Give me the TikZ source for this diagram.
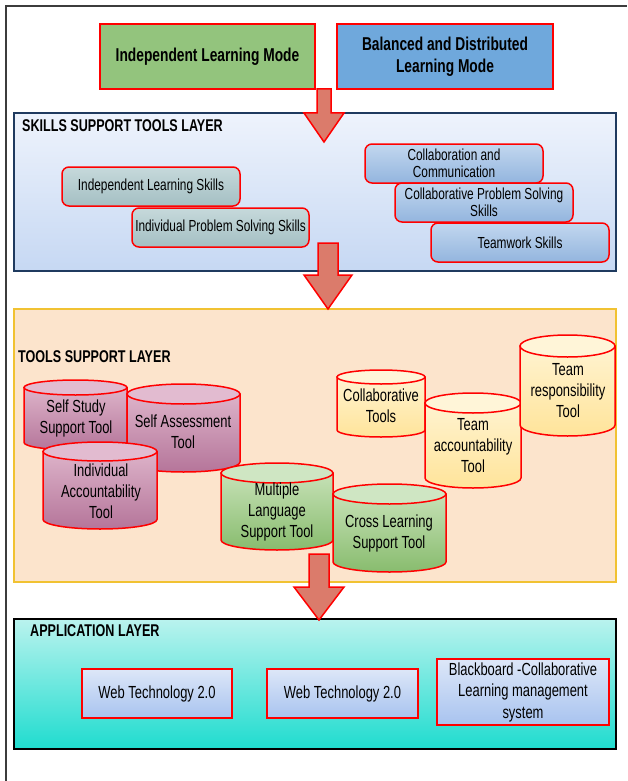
\documentclass[tikz,border=0pt]{standalone}
\usepackage{fontspec}
\setmainfont{Liberation Sans}[FakeStretch=0.74]
\definecolor{modegreen}{HTML}{93C47D}
\definecolor{modeblue}{HTML}{6FA8DC}
\definecolor{arrowfill}{HTML}{DB7B6B}
\definecolor{navyline}{HTML}{1F3A5F}
\definecolor{skilltop}{HTML}{EEF3FC}
\definecolor{skillbot}{HTML}{C6D8F3}
\definecolor{graytop}{HTML}{C6D9DB}
\definecolor{graybot}{HTML}{A4BFC3}
\definecolor{bluetop}{HTML}{C2D7EF}
\definecolor{bluebot}{HTML}{93B5DE}
\definecolor{toolsfill}{HTML}{FCE4CC}
\definecolor{toolsline}{HTML}{F1C232}
\definecolor{apptop}{HTML}{BAF3EE}
\definecolor{appbot}{HTML}{1FDCCF}
\definecolor{abtop}{HTML}{DDE7F8}
\definecolor{abbot}{HTML}{A8C3EF}
\definecolor{pinkcap}{HTML}{E2BBD0}
\definecolor{pinktop}{HTML}{DDB3C9}
\definecolor{pinkbot}{HTML}{B5759A}
\definecolor{greencap}{HTML}{CFE6C3}
\definecolor{greentop}{HTML}{C6E1B6}
\definecolor{greenbot}{HTML}{88BC6E}
\definecolor{yelcap}{HTML}{FFF5D8}
\definecolor{yeltop}{HTML}{FFF3D0}
\definecolor{yelbot}{HTML}{FFE49A}
\definecolor{framegray}{HTML}{3C3C3C}
\newcommand\mycyl[9]{%
  \pgfmathsetmacro\cyCx{(#2+#4)/2}%
  \pgfmathsetmacro\cyRx{(#4-#2)/2}%
  \pgfmathsetmacro\cyTa{#3+#6}%
  \pgfmathsetmacro\cyBa{#5-#6}%
  \pgfmathsetmacro\cyK{0.5523*#6}%
  \pgfmathsetmacro\cyKx{0.5523*\cyRx}%
  \path[#7body, cylline] (#2,\cyTa) -- (#2,\cyBa)
     .. controls (#2,{\cyBa+\cyK}) and ({\cyCx-\cyKx},#5) .. (\cyCx,#5)
     .. controls ({\cyCx+\cyKx},#5) and (#4,{\cyBa+\cyK}) .. (#4,\cyBa)
     -- (#4,\cyTa) -- cycle;
  \path[#7cap, cylline] (\cyCx,\cyTa) ellipse [x radius=\cyRx, y radius=#6];
  \node[cyltext] (#1) at (#8) {#9};
}
\newcommand\blockarr[7]{%
  \draw[arrowst] ({#2-#6/2},#3) -- ({#2+#6/2},#3) -- ({#2+#6/2},#4) -- ({#2+#7/2},#4)
     -- (#2,#5) -- ({#2-#7/2},#4) -- ({#2-#6/2},#4) -- cycle;
  \coordinate (#1) at (#2,#5);
}
\begin{document}
\begin{tikzpicture}[x=1pt,y=-1pt,
  modebox/.style={draw=red, line width=1.5pt, inner sep=0pt, align=center,
     font=\bfseries\fontsize{18.6}{22}\selectfont},
  layertitle/.style={anchor=west, inner sep=0pt, font=\bfseries\fontsize{17}{19}\selectfont},
  skillbox/.style={draw=red, line width=1.5pt, rounded corners=7pt, inner sep=0pt, align=center,
     minimum width=178pt, minimum height=39pt, font=\fontsize{16}{17.5}\selectfont},
  grayskill/.style={skillbox, top color=graytop, bottom color=graybot},
  blueskill/.style={skillbox, top color=bluetop, bottom color=bluebot},
  appbox/.style={draw=red, line width=1.5pt, inner sep=0pt, align=center,
     top color=abtop, bottom color=abbot, font=\fontsize{17.5}{21.5}\selectfont},
  cylline/.style={draw=red, line width=1.5pt},
  cyltext/.style={inner sep=0pt, align=center, font=\fontsize{17.5}{21}\selectfont},
  pinkbody/.style={top color=pinktop, bottom color=pinkbot},
  pinkcap/.style={fill=pinkcap},
  greenbody/.style={top color=greentop, bottom color=greenbot},
  greencap/.style={fill=greencap},
  yelbody/.style={top color=yeltop, bottom color=yelbot},
  yelcap/.style={fill=yelcap},
  arrowst/.style={draw=red, line width=1.5pt, fill=arrowfill, line join=miter}]
\useasboundingbox (0,0) rectangle (627,781);
\fill[white] (0,0) rectangle (627,781);
\draw[framegray, line width=2pt] (5.5,781) -- (5.5,6) -- (627,6);

% top modes
\node[modebox, fill=modegreen, minimum width=215pt, minimum height=65pt] (indmode) at (207.5,56.5) {Independent Learning Mode};
\node[modebox, fill=modeblue, minimum width=216pt, minimum height=65pt] (balmode) at (445,56.5) {Balanced and Distributed\\Learning Mode};

% skills layer
\node[draw=navyline, line width=2pt, top color=skilltop, bottom color=skillbot, minimum width=602pt, minimum height=158pt, inner sep=0pt] (skills) at (315,192) {};
\node[layertitle] (skillstitle) at (22,126) {SKILLS SUPPORT TOOLS LAYER};
\node[grayskill] (ils) at (151,186.5) {Independent Learning Skills};
\node[grayskill, minimum width=177pt] (ips) at (220.5,227.5) {Individual Problem Solving Skills};
\node[blueskill] (cc) at (454,163.5) {Collaboration and\\Communication};
\node[blueskill] (cps) at (484,202.5) {Collaborative Problem Solving\\Skills};
\node[blueskill] (tw) at (520,242.5) {Teamwork Skills};

% tools layer
\node[draw=toolsline, line width=1.5pt, fill=toolsfill, minimum width=602pt, minimum height=273pt, inner sep=0pt] (tools) at (315,445.5) {};
\node[layertitle] (toolstitle) at (18,357) {TOOLS SUPPORT LAYER};
\mycyl{ss}{24}{380}{127}{450}{7.5}{pink}{76,418}{Self Study\\Support Tool}
\mycyl{sa}{127}{384}{240}{472}{10}{pink}{183,432}{Self Assessment\\Tool}
\mycyl{ia}{43}{442}{157}{529}{9.5}{pink}{101,491}{Individual\\Accountability\\Tool}
\mycyl{ml}{221}{463}{333}{550}{10}{green}{277,512}{Multiple\\Language\\Support Tool}
\mycyl{cl}{333}{484}{446}{572}{10}{green}{389,533}{Cross Learning\\Support Tool}
\mycyl{ct}{337}{370}{425}{437}{7}{yel}{381,406}{Collaborative\\Tools}
\mycyl{ta}{425}{393}{521}{488}{10}{yel}{473,446}{Team\\accountability\\Tool}
\mycyl{tr}{520}{335}{615}{436}{11}{yel}{568,391}{Team\\responsibility\\Tool}

% application layer
\node[draw=black, line width=2pt, top color=apptop, bottom color=appbot, minimum width=602pt, minimum height=130pt, inner sep=0pt] (app) at (315,684) {};
\node[layertitle] (apptitle) at (30,631) {APPLICATION LAYER};
\node[appbox, minimum width=150pt, minimum height=49pt] (wt1) at (157,693.5) {Web Technology 2.0};
\node[appbox, minimum width=151pt, minimum height=49pt] (wt2) at (342.5,693.5) {Web Technology 2.0};
\node[appbox, minimum width=172pt, minimum height=66pt] (bb) at (523,692) {Blackboard -Collaborative\\Learning management\\system};

% block arrows
\blockarr{a1}{324}{89}{113}{142}{14}{40}
\blockarr{a2}{328}{243}{275}{309}{20}{48}
\blockarr{a3}{319}{554}{587}{620}{20}{50}
\end{tikzpicture}
\end{document}
